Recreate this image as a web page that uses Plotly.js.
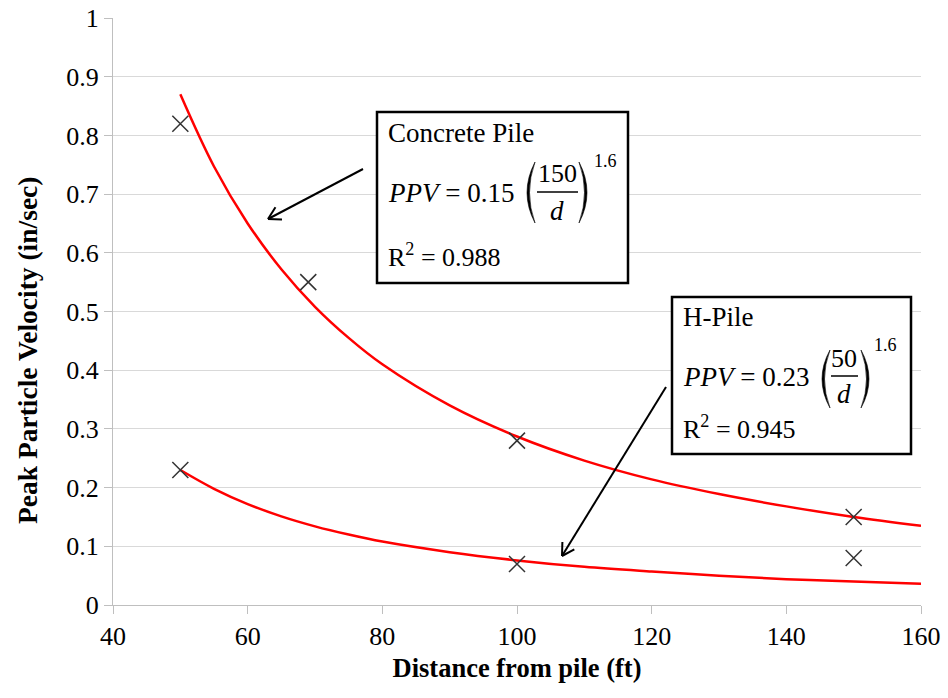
<!DOCTYPE html>
<html>
<head>
<meta charset="utf-8">
<script src="https://cdn.plot.ly/plotly-3.0.1.min.js"></script>
<style>html,body{margin:0;padding:0;background:#fff;}#chart{width:948px;height:698px;}</style>
</head>
<body>
<div id="chart"></div>
<script>
// Measured points
const concreteDist = [50, 69, 100, 150];
const concretePPV  = [0.82, 0.55, 0.28, 0.15];
const hpileDist    = [50, 100, 150];
const hpilePPV     = [0.23, 0.07, 0.08];

// Trend curves
const curveDist     = [50, 55, 60, 65, 70, 75, 80, 90, 100, 110, 120, 130, 140, 150, 160];
const concreteCurve = [0.870, 0.747, 0.650, 0.572, 0.508, 0.455, 0.410, 0.340, 0.287, 0.246, 0.214, 0.189, 0.168, 0.150, 0.135];
const hpileCurve    = [0.230, 0.198, 0.172, 0.151, 0.134, 0.120, 0.108, 0.090, 0.076, 0.065, 0.057, 0.050, 0.044, 0.040, 0.036];

const xTicks = [40, 60, 80, 100, 120, 140, 160];
const yTicks = [0, 0.1, 0.2, 0.3, 0.4, 0.5, 0.6, 0.7, 0.8, 0.9, 1];
const yTickText = ["0", "0.1", "0.2", "0.3", "0.4", "0.5", "0.6", "0.7", "0.8", "0.9", "1"];

const xTitle = 'Distance from pile (ft)';
const yTitle = 'Peak Particle Velocity (in/sec)';

const FONT = "Liberation Serif, Times New Roman, serif";
const L = 113, R = 921, T = 18, B = 605;
const PX = x => (x - L) / (R - L);
const PY = y => (B - y) / (B - T);

function txt(text, x, y, size, xanchor) {
  return {text: text, x: PX(x), y: PY(y), xref: 'paper', yref: 'paper',
          xanchor: xanchor || 'left', yanchor: 'middle', showarrow: false,
          font: {family: FONT, size: size || 26, color: '#000'}};
}
function line(x0, y0, x1, y1, w) {
  return {type: 'line', xref: 'paper', yref: 'paper', x0: PX(x0), y0: PY(y0), x1: PX(x1), y1: PY(y1),
          line: {color: '#000', width: w || 2}, layer: 'above'};
}
function rect(x0, y0, x1, y1) {
  return {type: 'rect', xref: 'paper', yref: 'paper', x0: PX(x0), y0: PY(y0), x1: PX(x1), y1: PY(y1),
          line: {color: '#000', width: 2.5}, fillcolor: '#fff', layer: 'above'};
}
function paren(xEnd, xMid, yTop, yBot, thick) {
  const sign = xEnd > xMid ? 1 : -1;
  const ym = (yTop + yBot) / 2;
  const xo = 2 * xMid - xEnd;
  const xi = 2 * (xMid + sign * thick) - xEnd;
  const p = (x, y) => PX(x) + ',' + PY(y);
  return {type: 'path', xref: 'paper', yref: 'paper', layer: 'above',
          path: 'M' + p(xEnd, yTop) + ' Q' + p(xo, ym) + ' ' + p(xEnd, yBot) +
                ' Q' + p(xi, ym) + ' ' + p(xEnd, yTop) + ' Z',
          fillcolor: '#000', line: {color: '#000', width: 0.6}};
}
function arrow(tx, ty, hx, hy) {
  const dx = tx - hx, dy = ty - hy, len = Math.hypot(dx, dy);
  const ux = dx / len, uy = dy / len, a = Math.PI / 6, hl = 14;
  const r = (ang) => [hx + hl * (ux * Math.cos(ang) - uy * Math.sin(ang)),
                      hy + hl * (ux * Math.sin(ang) + uy * Math.cos(ang))];
  const p1 = r(a), p2 = r(-a);
  return [line(tx, ty, hx, hy, 2), line(hx, hy, p1[0], p1[1], 2), line(hx, hy, p2[0], p2[1], 2)];
}

const traces = [
  {x: curveDist, y: concreteCurve, mode: 'lines', line: {color: '#FF0000', width: 2.5, shape: 'spline'}, hoverinfo: 'skip'},
  {x: curveDist, y: hpileCurve, mode: 'lines', line: {color: '#FF0000', width: 2.5, shape: 'spline'}, hoverinfo: 'skip'},
  {x: concreteDist, y: concretePPV, mode: 'markers', marker: {symbol: 'x-thin-open', size: 16, color: '#333', line: {color: '#333', width: 1.5}}},
  {x: hpileDist, y: hpilePPV, mode: 'markers', marker: {symbol: 'x-thin-open', size: 16, color: '#333', line: {color: '#333', width: 1.5}}}
];

const shapes = [
  rect(377, 112, 628, 283),
  line(537, 192, 578, 192, 1.5),
  paren(535, 527, 162, 223, 2.5),
  paren(579, 587, 162, 223, 2.5),
  rect(672, 297, 911, 454),
  line(831, 376, 858, 376, 1.5),
  paren(830, 822, 350, 408, 2.5),
  paren(861, 869, 350, 408, 2.5)
].concat(arrow(363, 169, 268, 219), arrow(666, 387, 562, 556));

const yTitleAnn = {text: '<b>' + yTitle + '</b>', textangle: -90, x: PX(27), y: PY(351),
  xref: 'paper', yref: 'paper', xanchor: 'center', yanchor: 'middle', showarrow: false,
  font: {family: FONT, size: 27.5, color: '#000'}};

const annotations = [
  txt('Concrete Pile', 386, 133, 27),
  txt('<i>PPV</i> = 0.15', 386, 193, 27),
  txt('150', 557, 173, 26, 'center'),
  txt('<i>d</i>', 557, 211, 27, 'center'),
  txt('1.6', 605, 161, 18, 'center'),
  txt('R<sup>2</sup> = 0.988', 386, 255, 26),
  txt('H-Pile', 681, 317, 27),
  txt('<i>PPV</i> = 0.23', 681, 377, 27),
  txt('50', 844, 358, 26, 'center'),
  txt('<i>d</i>', 844, 394, 27, 'center'),
  txt('1.6', 885, 345, 18, 'center'),
  txt('R<sup>2</sup> = 0.945', 681, 427, 26),
  yTitleAnn
];

const layout = {
  width: 948, height: 698,
  margin: {l: L, r: 948 - R, t: T, b: 698 - B},
  paper_bgcolor: '#fff', plot_bgcolor: '#fff',
  showlegend: false,
  font: {family: FONT, color: '#000', size: 26},
  xaxis: {
    range: [40, 160], tickvals: xTicks, ticktext: xTicks.map(String),
    showgrid: false, zeroline: false, showline: true, linecolor: '#BFBFBF', linewidth: 1,
    ticks: 'outside', ticklen: 8, tickcolor: '#BFBFBF',
    tickfont: {family: FONT, size: 26, color: '#000'},
    title: {text: '<b>' + xTitle + '</b>', font: {family: FONT, size: 26.5, color: '#000'}, standoff: 8}
  },
  yaxis: {
    range: [0, 1], tickvals: yTicks, ticktext: yTickText, ticksuffix: ' ',
    showgrid: true, gridcolor: '#D9D9D9', gridwidth: 1, zeroline: false,
    showline: true, linecolor: '#BFBFBF', linewidth: 1,
    ticks: 'outside', ticklen: 8, tickcolor: '#BFBFBF',
    tickfont: {family: FONT, size: 26, color: '#000'}
  },
  shapes: shapes,
  annotations: annotations
};

Plotly.newPlot('chart', traces, layout, {displayModeBar: false, staticPlot: true});
</script>
</body>
</html>
